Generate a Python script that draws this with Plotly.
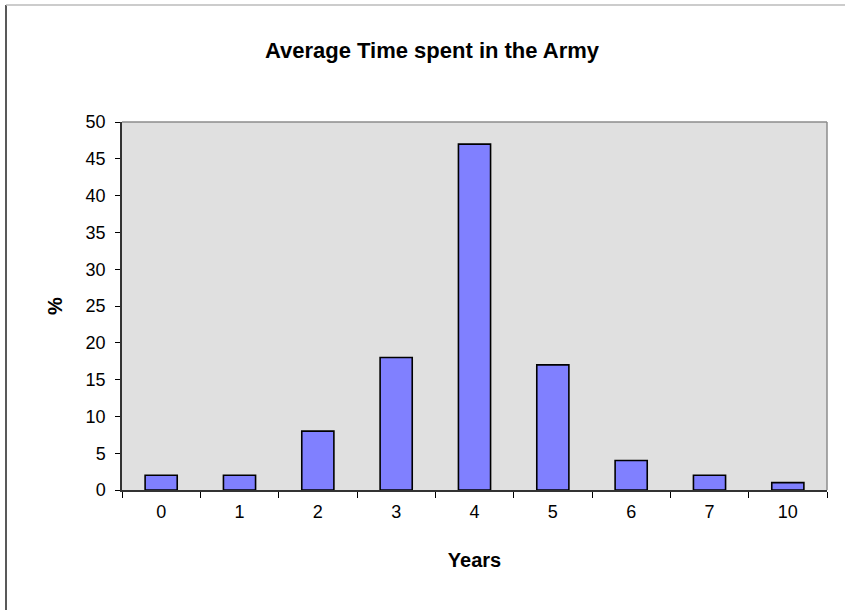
import plotly.graph_objects as go

years = ["0", "1", "2", "3", "4", "5", "6", "7", "10"]
percent = [2, 2, 8, 18, 47, 17, 4, 2, 1]
y_ticks = [0, 5, 10, 15, 20, 25, 30, 35, 40, 45, 50]

FONT = "Liberation Sans, Arial, sans-serif"

fig = go.Figure()
fig.add_trace(go.Bar(
    x=years, y=percent,
    marker=dict(color="#8080FF", line=dict(color="#000000", width=1.6)),
    hoverinfo="x+y",
))

fig.update_layout(
    width=845, height=610, autosize=False,
    margin=dict(l=122, r=18, t=122, b=120),
    paper_bgcolor="#FFFFFF",
    plot_bgcolor="#E0E0E0",
    bargap=0.59,
    showlegend=False,
    font=dict(family=FONT, color="#000000"),
    title=dict(
        text="<b>Average Time spent in the Army</b>",
        x=432 / 845, xref="container", xanchor="center",
        y=1 - 50 / 610, yref="container", yanchor="middle",
        font=dict(family=FONT, size=22, color="#000000"),
    ),
    xaxis=dict(
        type="category", categoryorder="array", categoryarray=years,
        range=[-0.5, len(years) - 0.5],
        tickson="boundaries", ticks="outside", ticklen=6, tickwidth=1,
        tickcolor="#000000",
        showline=True, linecolor="#333333", linewidth=1.5,
        showgrid=False, zeroline=False,
        ticklabelstandoff=5,
        tickfont=dict(family=FONT, size=18),
        title=dict(text="<b>Years</b>", font=dict(family=FONT, size=20), standoff=32),
    ),
    yaxis=dict(
        range=[0, 50], tickvals=y_ticks, ticktext=[str(v) for v in y_ticks],
        ticks="outside", ticklen=5, tickwidth=1, tickcolor="#000000",
        showline=True, linecolor="#333333", linewidth=1.5,
        showgrid=False, zeroline=False,
        ticklabelstandoff=6,
        tickfont=dict(family=FONT, size=18),
        title=dict(text="<b>%</b>", font=dict(family=FONT, size=20), standoff=18),
    ),
    shapes=[
        dict(type="line", xref="paper", yref="paper", x0=0, x1=1, y0=1, y1=1,
             line=dict(color="#8C8C8C", width=1.5), layer="above"),
        dict(type="line", xref="paper", yref="paper", x0=1, x1=1, y0=0, y1=1,
             line=dict(color="#8C8C8C", width=1.5), layer="above"),
        dict(type="line", xref="paper", yref="paper",
             x0=(6 - 122) / 705, x1=(6 - 122) / 705, y0=(490 - 5) / 368, y1=-0.5,
             line=dict(color="#222222", width=1.5)),
        dict(type="line", xref="paper", yref="paper",
             x0=(6 - 122) / 705, x1=1.2, y0=(490 - 5) / 368, y1=(490 - 5) / 368,
             line=dict(color="#BBBBBB", width=1.5)),
    ],
)

fig.write_html(
    "out.html",
    config={"displayModeBar": False},
    post_script="document.body.style.margin='0';document.body.style.padding='0';",
)
